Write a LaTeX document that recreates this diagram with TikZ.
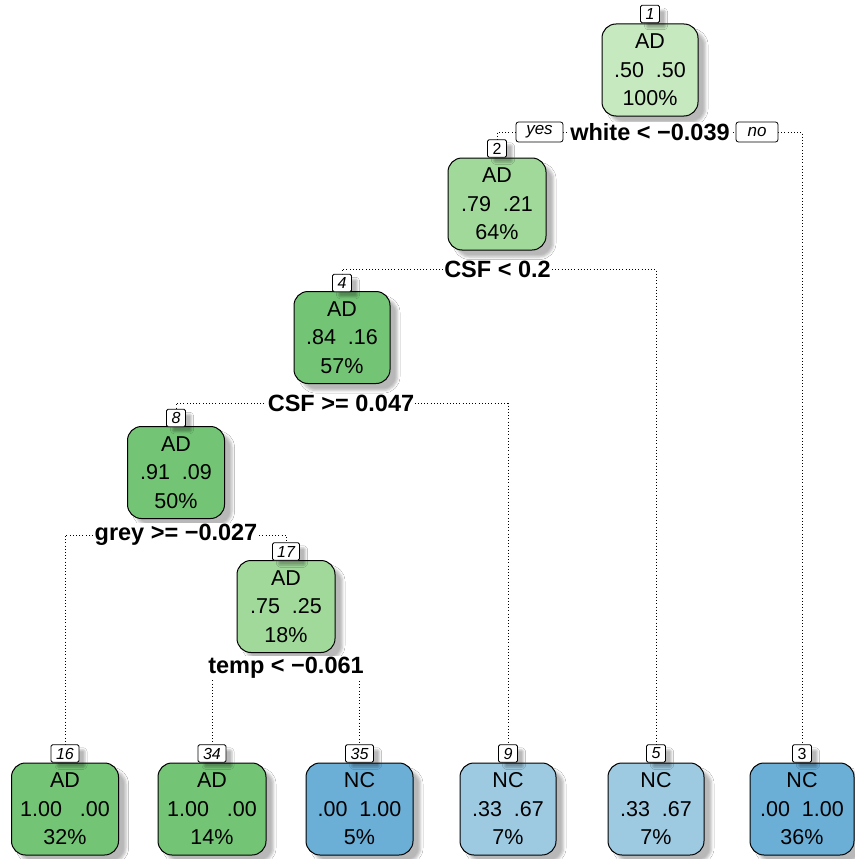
\documentclass[tikz,border=0pt]{standalone}
\usepackage{fontspec}
\setmainfont{Liberation Sans}
\usetikzlibrary{shadows.blur,backgrounds}
\definecolor{gD}{HTML}{74C476}
\definecolor{gM}{HTML}{A1D99B}
\definecolor{gL}{HTML}{C7E9C0}
\definecolor{bD}{HTML}{6BAED6}
\definecolor{bM}{HTML}{9ECAE1}
\tikzset{
  tnode/.style={draw=black, line width=1pt, rounded corners=14pt, minimum height=92pt,
    inner sep=0pt, align=center, font=\fontsize{21.5}{28.5}\selectfont,
    blur shadow={shadow xshift=7.5pt, shadow yshift=-7pt, shadow blur radius=2.5pt, shadow opacity=28}},
  numlab/.style={draw=black, fill=white, line width=0.8pt, rounded corners=1.5pt,
    minimum height=17.5pt, minimum width=19pt, inner sep=0pt,
    font=\fontsize{16}{16}\selectfont\itshape,
    blur shadow={shadow xshift=6pt, shadow yshift=-5pt, shadow blur radius=2pt, shadow opacity=28}},
  splitlab/.style={fill=white, inner sep=1pt, font=\fontsize{23.5}{23.5}\selectfont\bfseries},
  yesno/.style={draw=black, fill=white, line width=0.8pt, rounded corners=2.5pt,
    minimum height=20pt, inner sep=0pt, font=\fontsize{17}{17}\selectfont\itshape},
  conn/.style={line width=0.8pt, dash pattern=on 0.8pt off 2.4pt}
}
\begin{document}
\begin{tikzpicture}[x=1pt,y=-1pt]
\useasboundingbox (0,0) rectangle (854,859);
% internal nodes
\node[tnode, fill=gL, minimum width=96pt] (n1) at (650,70) {AD\\.50\ \ .50\\100\%};
\node[numlab] (l1) at (650,14) {1};
\node[tnode, fill=gM, minimum width=98pt] (n2) at (497,204) {AD\\.79\ \ .21\\64\%};
\node[numlab, font=\fontsize{16}{16}\selectfont] (l2) at (497,148.5) {2};
\node[tnode, fill=gD, minimum width=96pt] (n4) at (342,337.5) {AD\\.84\ \ .16\\57\%};
\node[numlab] (l4) at (342,283) {4};
\node[tnode, fill=gD, minimum width=97pt] (n8) at (176,472.5) {AD\\.91\ \ .09\\50\%};
\node[numlab] (l8) at (176,418) {8};
\node[tnode, fill=gM, minimum width=98pt] (n17) at (286,606.5) {AD\\.75\ \ .25\\18\%};
\node[numlab, minimum width=27pt] (l17) at (286,551.5) {17};
% leaves
\node[tnode, fill=gD, minimum width=107pt] (n16) at (65,809) {AD\\1.00\ \ \ .00\\32\%};
\node[numlab, minimum width=28pt] (l16) at (65,753.5) {16};
\node[tnode, fill=gD, minimum width=108pt] (n34) at (212,809) {AD\\1.00\ \ \ .00\\14\%};
\node[numlab, minimum width=28pt] (l34) at (212,753.5) {34};
\node[tnode, fill=bD, minimum width=107pt] (n35) at (359.5,809) {NC\\.00\ \ 1.00\\5\%};
\node[numlab, minimum width=28pt] (l35) at (359.5,753.5) {35};
\node[tnode, fill=bM, minimum width=96pt] (n9) at (508,809) {NC\\.33\ \ .67\\7\%};
\node[numlab] (l9) at (508,753.5) {9};
\node[tnode, fill=bM, minimum width=96pt] (n5) at (656,809) {NC\\.33\ \ .67\\7\%};
\node[numlab] (l5) at (656,753.5) {5};
\node[tnode, fill=bD, minimum width=104pt] (n3) at (802,809) {NC\\.00\ \ 1.00\\36\%};
\node[numlab, font=\fontsize{16}{16}\selectfont] (l3) at (802,753.5) {3};
% split labels
\node[splitlab] (s1) at (650,132) {white < −0.039};
\node[yesno, minimum width=47pt] (yes) at (539.5,132) {yes};
\node[yesno, minimum width=42pt] (no) at (757,132) {no};
\node[splitlab] (s2) at (497.5,269) {CSF < 0.2};
\node[splitlab] (s4) at (341,403) {CSF >= 0.047};
\node[splitlab] (s8) at (176,535) {grey >= −0.027};
\node[splitlab] (s17) at (286,668) {temp < −0.061};
% connectors
\begin{scope}[on background layer]
\fill[white] (0,0) rectangle (854,859);
\draw[conn] (s1.center) -| (l2.north);
\draw[conn] (s1.center) -| (l3.north);
\draw[conn] (s2.center) -| (l4.north);
\draw[conn] (s2.center) -| (l5.north);
\draw[conn] (s4.center) -| (l8.north);
\draw[conn] (s4.center) -| (l9.north);
\draw[conn] (s8.center) -| (l16.north);
\draw[conn] (s8.center) -| (l17.north);
\draw[conn] (s17.center) -| (l34.north);
\draw[conn] (s17.center) -| (l35.north);
\end{scope}
\end{tikzpicture}
\end{document}
